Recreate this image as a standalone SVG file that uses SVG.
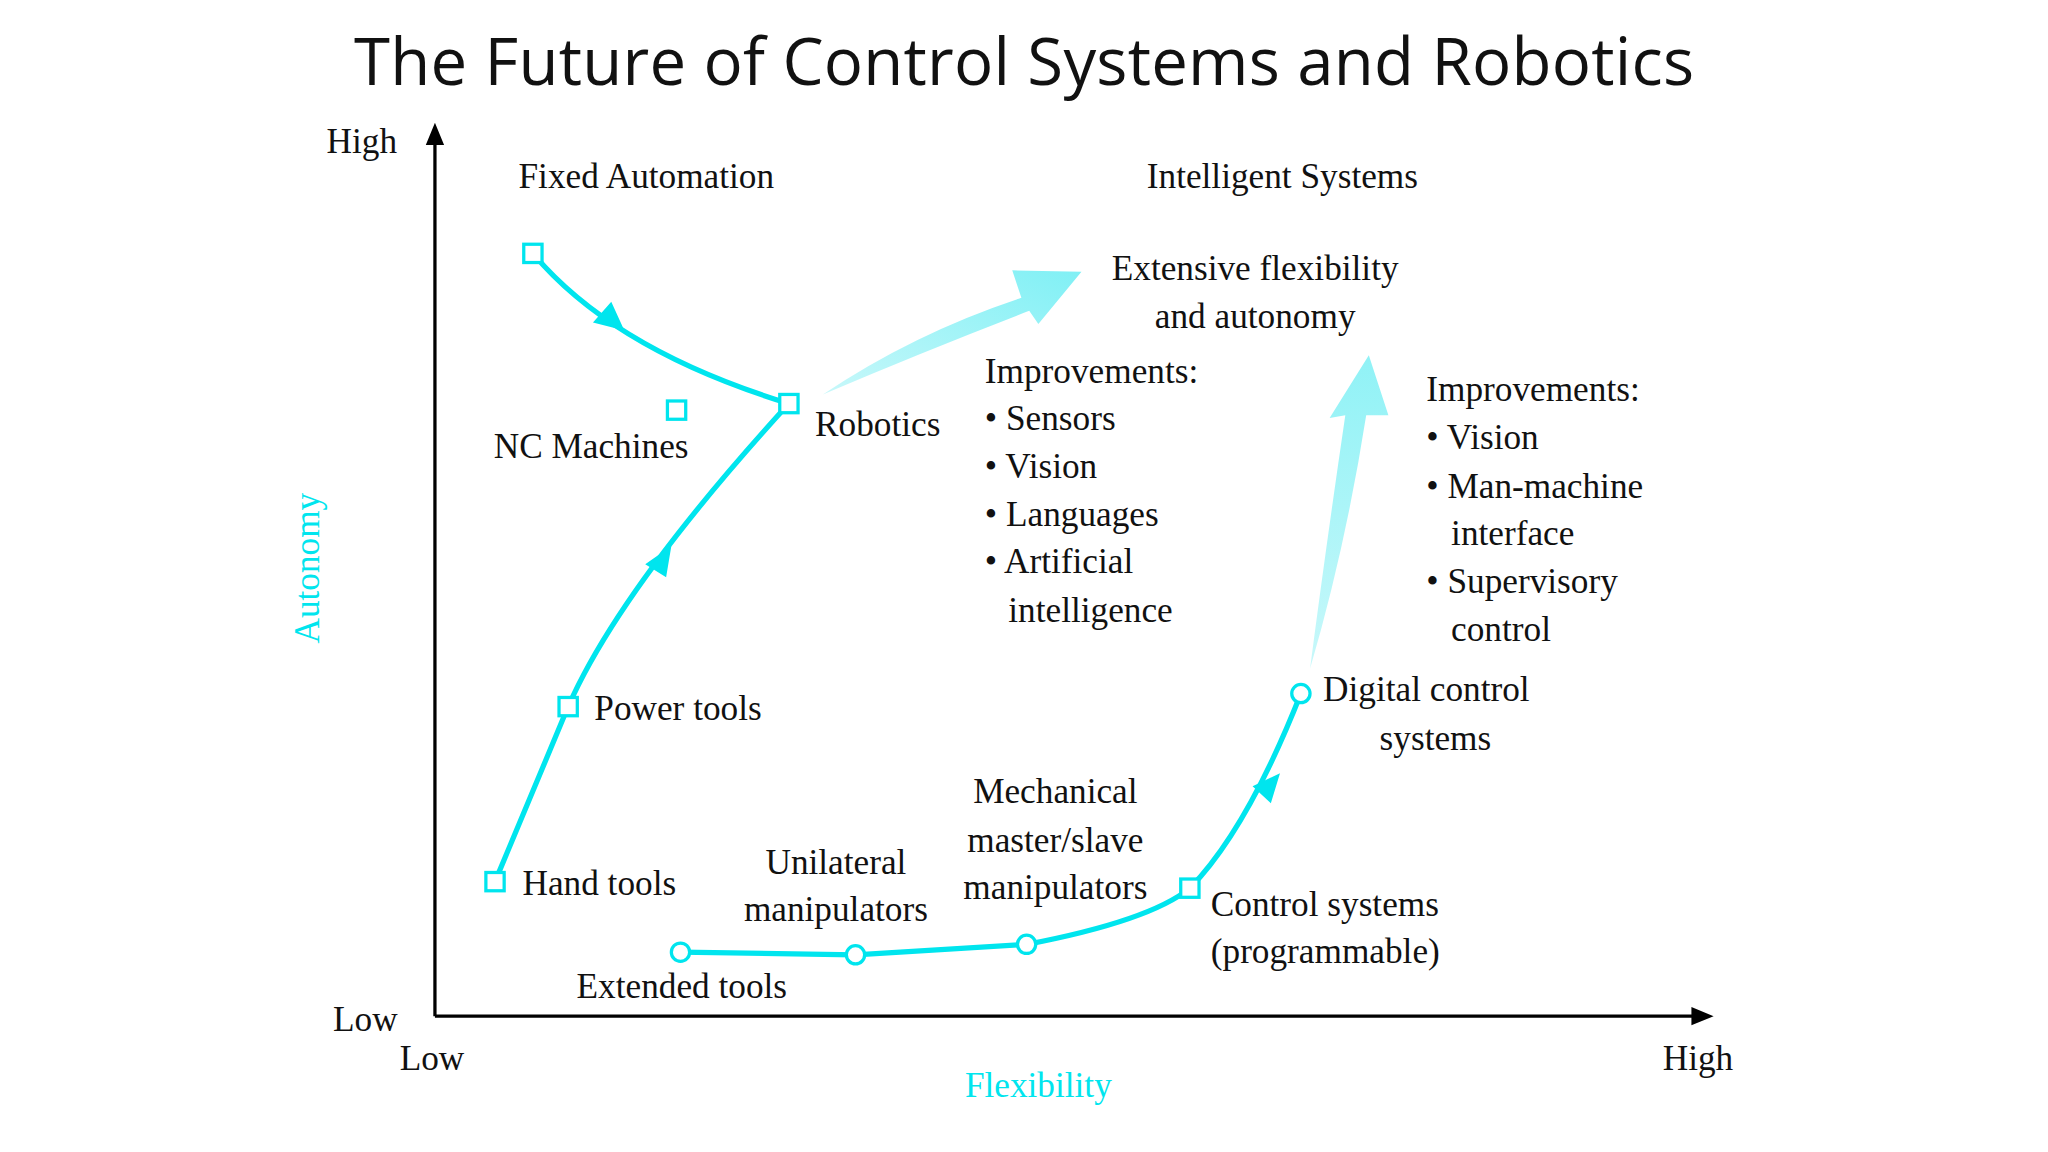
<svg xmlns="http://www.w3.org/2000/svg" width="2048" height="1152" viewBox="0 0 2048 1152">
<defs>
<style>
.t{font-family:"Liberation Serif",serif;font-size:27px;fill:#111}
.c{font-family:"Liberation Serif",serif;font-size:27px;fill:#00e5ee}
.ln{fill:none;stroke:#00e5ee;stroke-width:4}
.sq{fill:#fff;stroke:#00e5ee;stroke-width:2.5}
.ax{stroke:#000;stroke-width:2.5;fill:none}
</style>
<linearGradient id="g1" x1="0" y1="1" x2="1" y2="0"><stop offset="0" stop-color="#c8f8fa"/><stop offset="1" stop-color="#80f0f5"/></linearGradient>
<linearGradient id="g2" x1="0" y1="1" x2="0" y2="0"><stop offset="0" stop-color="#c8f8fa"/><stop offset="1" stop-color="#90f2f6"/></linearGradient>
</defs>
<rect width="2048" height="1152" fill="#fff"/>
<g transform="scale(1.30612)">
<text x="784" y="65" text-anchor="middle" textLength="1026" style="font-family:'Open Sans',sans-serif;font-size:50px;fill:#111">The Future of Control Systems and Robotics</text>
<g id="axes">
<path class="ax" d="M333,778 V105 M333,778 H1300"/>
<path d="M333,94 L326,111 H340 Z M1312,778 L1295,771 V785 Z" fill="#000"/>
<text class="t" x="250" y="117">High</text>
<text class="t" x="255" y="789">Low</text>
<text class="t" x="306" y="819">Low</text>
<text class="t" x="1273" y="819">High</text>
<text class="c" transform="translate(244,435) rotate(-90)" text-anchor="middle">Autonomy</text>
<text class="c" x="795" y="840" text-anchor="middle">Flexibility</text>
</g>
<g id="bigArrows">
<path d="M630,302 Q700,255 782,228 L775,207 L828,208 L795,248 L788,238 Q710,268 630,302 Z" fill="url(#g1)"/>
<path d="M1003,512 Q1015,420 1030,318 L1018,320 L1048,272 L1063,318 L1046,318 Q1030,420 1003,512 Z" fill="url(#g2)"/>
</g>
<g id="connectors">
<path class="ln" d="M408,194 Q470,268 604,309"/>
<path class="ln" d="M379,675 L435,541 Q475,450 604,309"/>
<path class="ln" d="M521,729 L655,731 L786,723 Q880,705 911,680 Q955,635 996,531"/>
<path d="M478,253 L454,247 L468,231 Z M514,418 L494,432 L510,442 Z M980,592 L959,602 L973,615 Z" fill="#00e5ee"/>
</g>
<g id="nodes">
<rect class="sq" x="401" y="187" width="14" height="14"/>
<rect class="sq" x="511" y="307" width="14" height="14"/>
<rect class="sq" x="597" y="302" width="14" height="14"/>
<rect class="sq" x="428" y="534" width="14" height="14"/>
<rect class="sq" x="372" y="668" width="14" height="14"/>
<rect class="sq" x="904" y="673" width="14" height="14"/>
<circle class="sq" cx="521" cy="729" r="7"/>
<circle class="sq" cx="655" cy="731" r="7"/>
<circle class="sq" cx="786" cy="723" r="7"/>
<circle class="sq" cx="996" cy="531" r="7"/>
</g>
<g id="labels">
<text class="t" x="397" y="144">Fixed Automation</text>
<text class="t" x="878" y="144">Intelligent Systems</text>
<text class="t" x="961" y="214" text-anchor="middle">Extensive flexibility</text>
<text class="t" x="961" y="251" text-anchor="middle">and autonomy</text>
<text class="t" x="378" y="351">NC Machines</text>
<text class="t" x="624" y="334">Robotics</text>
<text class="t" x="754" y="293">Improvements:</text>
<text class="t" x="754" y="329">• Sensors</text>
<text class="t" x="754" y="366">• Vision</text>
<text class="t" x="754" y="403">• Languages</text>
<text class="t" x="754" y="439">• Artificial</text>
<text class="t" x="772" y="476">intelligence</text>
<text class="t" x="1092" y="307">Improvements:</text>
<text class="t" x="1092" y="344">• Vision</text>
<text class="t" x="1092" y="381">• Man-machine</text>
<text class="t" x="1111" y="417">interface</text>
<text class="t" x="1092" y="454">• Supervisory</text>
<text class="t" x="1111" y="491">control</text>
<text class="t" x="455" y="551">Power tools</text>
<text class="t" x="1013" y="537">Digital control</text>
<text class="t" x="1099" y="574" text-anchor="middle">systems</text>
<text class="t" x="808" y="615" text-anchor="middle">Mechanical</text>
<text class="t" x="808" y="652" text-anchor="middle">master/slave</text>
<text class="t" x="808" y="688" text-anchor="middle">manipulators</text>
<text class="t" x="640" y="669" text-anchor="middle">Unilateral</text>
<text class="t" x="640" y="705" text-anchor="middle">manipulators</text>
<text class="t" x="400" y="685">Hand tools</text>
<text class="t" x="927" y="701">Control systems</text>
<text class="t" x="927" y="737">(programmable)</text>
<text class="t" x="522" y="764" text-anchor="middle">Extended tools</text>
</g>
</g>
</svg>
